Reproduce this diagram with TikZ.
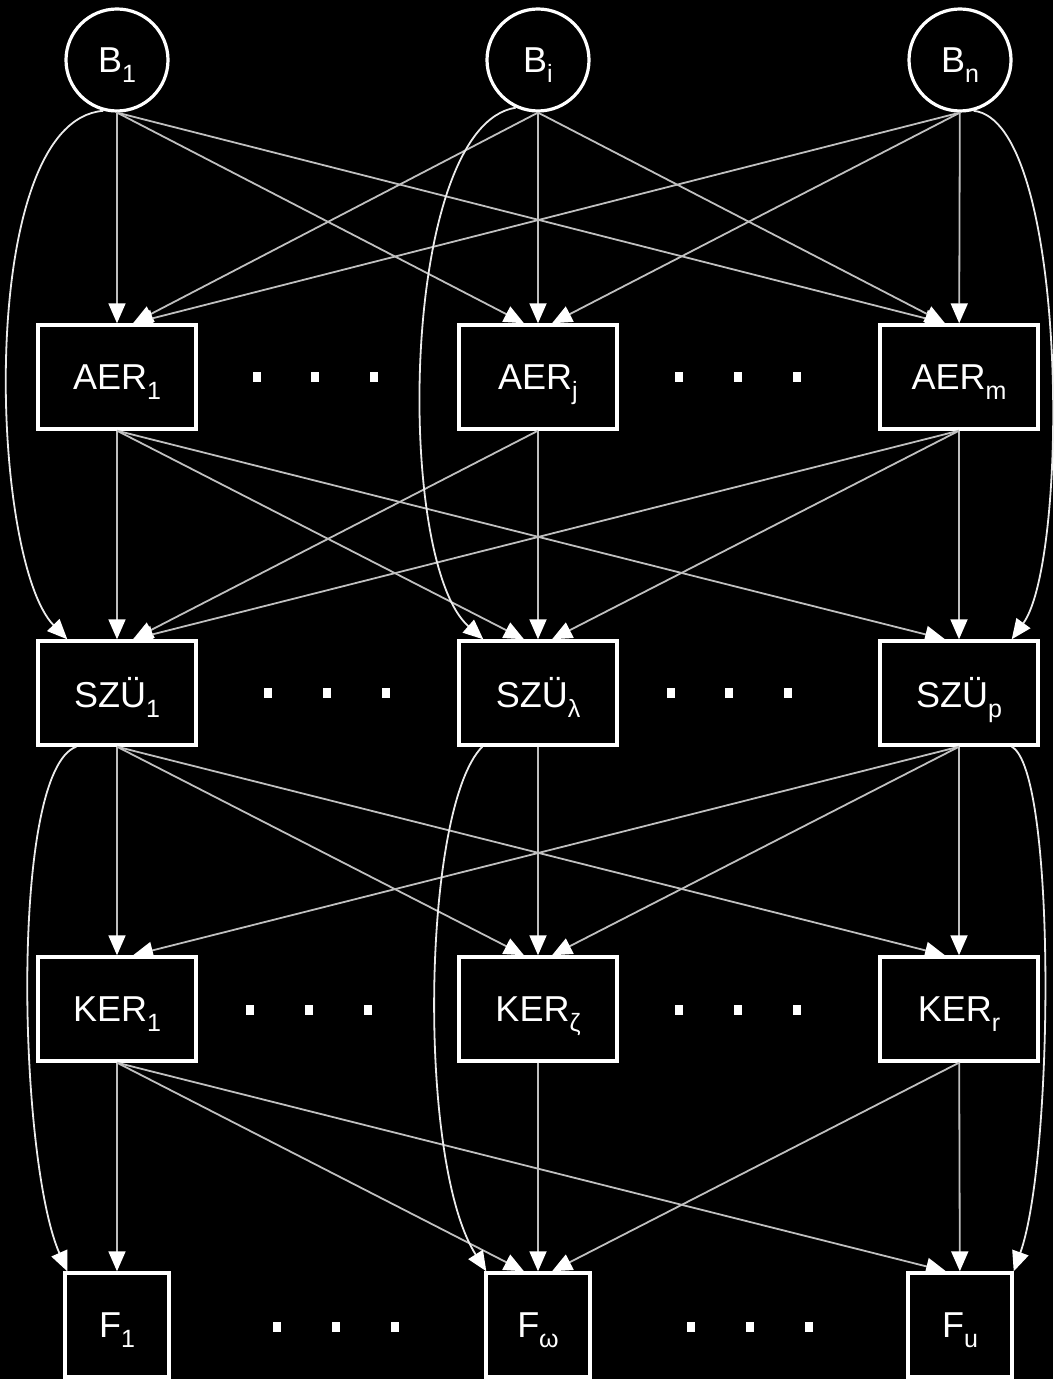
\documentclass[tikz,border=0pt]{standalone}
\usepackage{fontspec}
\setmainfont{Liberation Sans}
\usetikzlibrary{arrows.meta}

\newcommand{\lowsub}[1]{\raisebox{-5pt}[0pt][0pt]{\fontsize{12.5}{12.5}\selectfont #1}}

\tikzset{
  src/.style={circle,draw=white,line width=1.6pt,minimum size=51pt,inner sep=0pt,
    text=white,font=\fontsize{18}{18}\selectfont},
  blk/.style={rectangle,draw=white,line width=1.7pt,minimum width=79pt,minimum height=52pt,
    inner sep=0pt,text=white,font=\fontsize{18}{18}\selectfont},
  fin/.style={blk,minimum width=52pt},
  con/.style={draw=white!75!black,line width=0.9pt,
    -{Triangle[length=10pt,width=8.5pt,color=white]}},
  arc/.style={con,draw=white!92!black}
}

\begin{document}
\begin{tikzpicture}[x=0.5pt,y=-0.5pt]
\useasboundingbox (0,0) rectangle (1053,1379);
\fill[black] (0,0) rectangle (1053,1379);

\node[src] (B1) at (117,60) {B\lowsub{1}};
\node[src] (Bi) at (538,60) {B\lowsub{i}};
\node[src] (Bn) at (960,60) {B\lowsub{n}};

\node[blk] (AER1) at (117,377) {AER\lowsub{1}};
\node[blk] (AERj) at (538,377) {AER\lowsub{j}};
\node[blk] (AERm) at (959,377) {AER\lowsub{m}};

\node[blk] (SZU1) at (117,693) {SZÜ\lowsub{1}};
\node[blk] (SZUl) at (538,693) {SZÜ\lowsub{λ}};
\node[blk] (SZUp) at (959,693) {SZÜ\lowsub{p}};

\node[blk] (KER1) at (117,1009) {KER\lowsub{1}};
\node[blk] (KERz) at (538,1009) {KER\lowsub{ζ}};
\node[blk] (KERr) at (959,1009) {KER\lowsub{r}};

\node[fin] (F1) at (117,1325) {F\lowsub{1}};
\node[fin] (Fw) at (538,1325) {F\lowsub{ω}};
\node[fin] (Fu) at (960,1325) {F\lowsub{u}};

% dots between the columns
\foreach \x/\y in {257/377,315/377,374/377,679/377,738/377,797/377,
                   268/693,327/693,386/693,671/693,729/693,788/693,
                   250/1010,309/1010,368/1010,679/1010,738/1010,797/1010,
                   277/1327,336/1327,395/1327,691/1327,750/1327,809/1327}
  \fill[white] (\x-4,\y-5) rectangle (\x+4,\y+5);

% B -> AER
\draw[con] (B1) -- (AER1);
\draw[con] (B1.south) -- ([xshift=-7pt]AERj.north);
\draw[con] (B1.south) -- ([xshift=-7pt]AERm.north);
\draw[con] (Bi) -- (AERj);
\draw[con] (Bi.south) -- ([xshift=8pt]AER1.north);
\draw[con] (Bi.south) -- ([xshift=-7pt]AERm.north);
\draw[con] (Bn) -- (AERm);
\draw[con] (Bn.south) -- ([xshift=8pt]AER1.north);
\draw[con] (Bn.south) -- ([xshift=7pt]AERj.north);

% AER -> SZU
\draw[con] (AER1) -- (SZU1);
\draw[con] (AER1.south) -- ([xshift=-7pt]SZUl.north);
\draw[con] (AER1.south) -- ([xshift=-7pt]SZUp.north);
\draw[con] (AERj) -- (SZUl);
\draw[con] (AERj.south) -- ([xshift=8pt]SZU1.north);
\draw[con] (AERm) -- (SZUp);
\draw[con] (AERm.south) -- ([xshift=8pt]SZU1.north);
\draw[con] (AERm.south) -- ([xshift=7pt]SZUl.north);

% SZU -> KER
\draw[con] (SZU1) -- (KER1);
\draw[con] (SZU1.south) -- ([xshift=-7pt]KERz.north);
\draw[con] (SZU1.south) -- ([xshift=-7pt]KERr.north);
\draw[con] (SZUl) -- (KERz);
\draw[con] (SZUp) -- (KERr);
\draw[con] (SZUp.south) -- ([xshift=8pt]KER1.north);
\draw[con] (SZUp.south) -- ([xshift=7pt]KERz.north);

% KER -> F
\draw[con] (KER1) -- (F1);
\draw[con] (KER1.south) -- ([xshift=-7pt]Fw.north);
\draw[con] (KER1.south) -- ([xshift=-7pt]Fu.north);
\draw[con] (KERz) -- (Fw);
\draw[con] (KERr) -- (Fu);
\draw[con] (KERr.south) -- ([xshift=7pt]Fw.north);

% long bows
\draw[arc] (B1.255) .. controls +(-128,10) and +(-78,-80) .. ([xshift=15.5pt]SZU1.north west);
\draw[arc] (Bi.245) .. controls +(-116,18) and +(-89,-78) .. ([xshift=13pt]SZUl.north west);
\draw[arc] (Bn.285) .. controls +(95,10) and +(58,-80) .. ([xshift=-14pt]SZUp.north east);
\draw[arc] ([xshift=20pt]SZU1.south west) .. controls +(-67,24) and +(-49,-112) .. ([xshift=2pt]F1.north west);
\draw[arc] ([xshift=12.5pt]SZUl.south west) .. controls +(-60,60) and +(-70,-110) .. ([xshift=1pt]Fw.north west);
\draw[arc] ([xshift=-14pt]SZUp.south east) .. controls +(45,24) and +(40,-112) .. (Fu.north east);
\end{tikzpicture}
\end{document}
